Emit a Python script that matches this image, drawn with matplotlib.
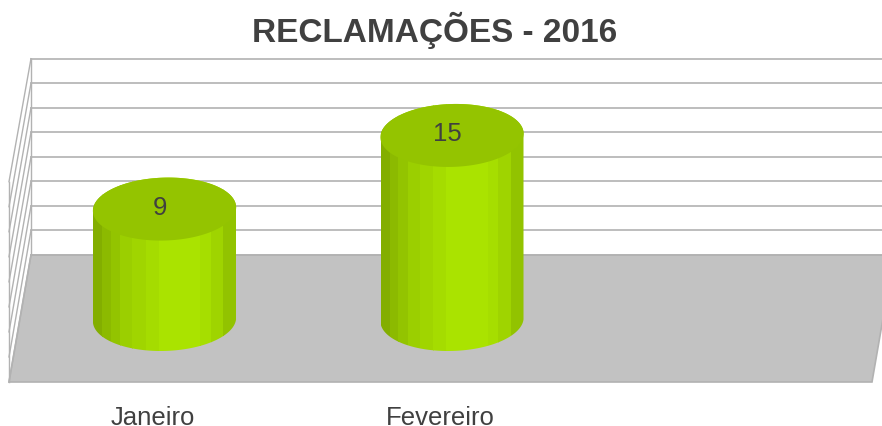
import numpy as np
import matplotlib
matplotlib.use('Agg')
import matplotlib.pyplot as plt
from matplotlib.patches import Polygon, Rectangle

months = ['Janeiro', 'Fevereiro']
values = [9, 15]
grid_values = [0, 2, 4, 6, 8, 10, 12, 14, 16]
title = 'RECLAMAÇÕES - 2016'

# side bands of the cylinder, left to right
band_edges = [0, .065, .125, .19, .275, .37, .46, .75, .825, .91, 1]
band_colors = ['#83ae00', '#8cba00', '#93c400', '#9bcf00', '#a0d500', '#a5dc00',
               '#aae300', '#a6de00', '#9fd400', '#92c300']

W, H = 882, 426
cat_step = 287.5   # pixels between categories
unit = 12.27       # pixels per value unit
x0, y0 = 164.5, 319.5

plt.rcParams['font.family'] = ['Liberation Sans', 'DejaVu Sans']

fig = plt.figure(figsize=(W/100, H/100), dpi=100)
ax = fig.add_axes([0, 0, 1, 1])
ax.set_xlim(-x0/cat_step, (W-x0)/cat_step)
ax.set_ylim((y0-H)/unit, y0/unit)
ax.axis('off')


# pixel position to chart units, for the frame around the bars
def xp(p):
    return (p-x0)/cat_step


def yp(p):
    return (y0-p)/unit


line_col = '#b2b2b2'

# floor
floor = [(31, 255), (894, 255), (872, 382), (9, 382)]
ax.add_patch(Polygon([(xp(a), yp(b)) for a, b in floor], closed=True, facecolor='#c2c2c2',
                     edgecolor=line_col, linewidth=1.2, zorder=1))

# grid on back and side wall
wall_offset = yp(255)
for g in grid_values:
    y_back = g+wall_offset
    y_front = yp(382)+g*(200/196)
    ax.plot([xp(31), 1.1*xp(W)], [y_back, y_back], color=line_col, lw=1.2, zorder=1)
    ax.plot([xp(31), xp(9)], [y_back, y_front], color=line_col, lw=1.0, zorder=1)
ax.plot([xp(31), xp(31)], [yp(255), yp(59)], color=line_col, lw=1.0, zorder=1)
ax.plot([xp(9), xp(9)], [yp(382), yp(182)], color=line_col, lw=1.0, zorder=1)

# cylinders
a = 71.5/cat_step
b = 31.5/unit
skew = 4/cat_step
t = np.linspace(0, 2*np.pi, 181)
ex = a*np.cos(t)+skew*np.sin(t)
ey = b*np.sin(t)

for i, v in enumerate(values):
    # body outline: lower half of the base ellipse, then upper half of the top one
    low = t >= np.pi
    high = t <= np.pi
    xs = np.concatenate([i+ex[low], i+ex[high]])
    ys = np.concatenate([ey[low], v+ey[high]])
    body = Polygon(np.column_stack([xs, ys]), closed=True, facecolor='none', edgecolor='none', zorder=2)
    ax.add_patch(body)
    for k, c in enumerate(band_colors):
        left = i-a+2*a*band_edges[k]
        width = 2*a*(band_edges[k+1]-band_edges[k])
        band = Rectangle((left, -b*1.1), width+0.002, v+2.2*b, facecolor=c, edgecolor='none', zorder=2)
        ax.add_patch(band)
        band.set_clip_path(body)
    ax.add_patch(Polygon(np.column_stack([i+ex, v+ey]), closed=True, facecolor='#94c400',
                         edgecolor='none', zorder=3))
    ax.text(i-5/cat_step, v+1/unit, str(v), ha='center', va='center', fontsize=18.5,
            color='#404040', zorder=4)
    ax.text(i-12/cat_step, yp(425), months[i], ha='center', va='baseline', fontsize=18.5, color='#404040')

ax.text(xp(434.5), yp(42), title, ha='center', va='baseline', fontsize=24, fontweight='bold', color='#404040')

fig.savefig('out.png', dpi=100)
